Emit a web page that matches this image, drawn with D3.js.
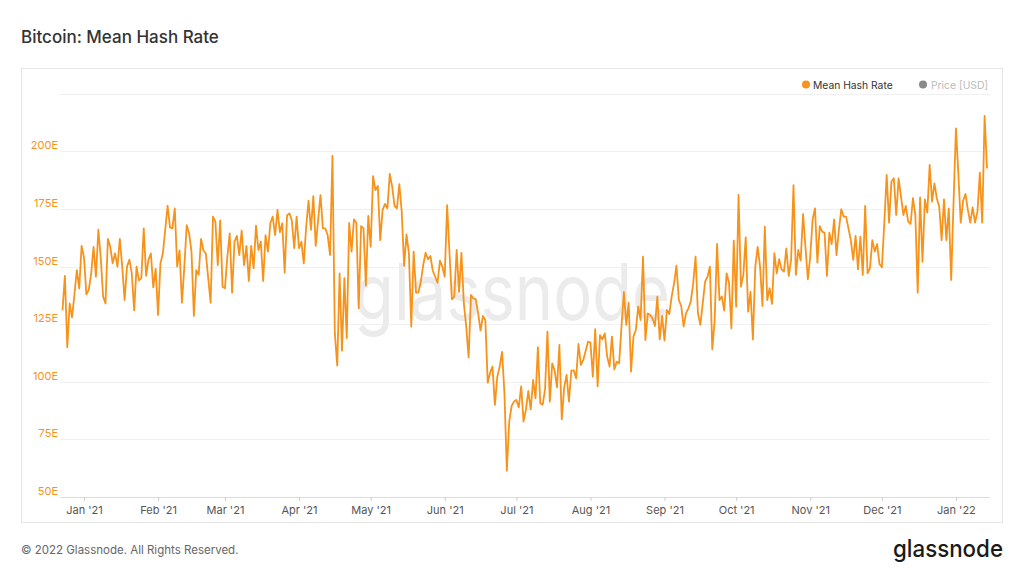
<!DOCTYPE html>
<html>
<head>
<meta charset="utf-8">
<script src="https://cdn.jsdelivr.net/npm/d3@7"></script>
<style>
  html, body { margin: 0; padding: 0; background: #ffffff; }
  svg { display: block; font-family: Inter, "Noto Sans", sans-serif; }
</style>
</head>
<body>
<svg id="chart" width="1024" height="576"></svg>
<script>
// ---- data ----
const seriesName = "Mean Hash Rate";
const startDate = "2020-12-23";
const hashRate = [
131,146,115,134,128,138,148.5,140.5,159,
154,138,140,147,158.6,145.6,166,154,137,134,162,158.6,151.4,155.7,150,162,150,135.5,150,153,147,131,150,144,145,166.6,146,153,155.7,141,149,129,
151.4,155.7,166,176.4,167,166.6,175.3,150,157,134.3,150,168,164.4,156.5,128.6,148.5,146.4,162,157,155.7,145,134.3,171.7,169.5,150.6,170,141.3,140.6,
154.3,164.4,138.7,160.8,163.3,155,165.6,150.6,159,143.75,159,149.2,167.8,157.2,160.8,143.75,163.7,156.5,168.8,171.7,163.7,174.6,164.9,168.8,147.4,172.3,173.1,170,158,171.7,
158,160.8,151.4,167.3,178.6,165.9,180.6,159,170.2,181,166.6,166.6,163.7,155,198,121,107,147,113.5,145,119,169,156.5,170.5,169,131.9,167.6,166.6,141.7,172,
158.6,189.3,183.2,185,161.5,174.6,177.2,175.3,190.2,184.7,176.3,175.3,185.8,173.8,150.3,164,155.8,124,156.5,138.7,138.7,143.5,150.7,156,153.2,154.6,148.2,145.6,143,152.6,150,145.6,
176.7,155.8,135.8,137,157.2,139,156,134,124,110.6,137.7,136.2,135.8,129.7,122.2,128.6,126.8,99.6,104,106.6,90,102.2,106.6,113,95,61.4,82.7,89.5,91.4,
92.1,88.9,98,82.7,88,96,88,100.8,92.8,115,90.7,90,96.7,121.8,91.4,108,105,97.6,116,83.7,97.6,103,91.4,104.8,105,101.5,116.4,107.3,109.5,113.5,117.4,
117,102.2,122.8,98,120.3,118.4,121,111,106.6,119.6,105.4,108.7,108,124,139,124.7,134.3,104.4,119.6,122.5,132.6,126.8,154.3,118.1,129.7,129,127.5,124.2,137,118.4,128.6,
117.9,131.2,129.4,137,142.7,150.4,135.5,132.9,124,129.7,131.9,134.8,142.7,154.3,129.7,124.7,134,143.5,145.6,150,114.1,126.8,159.8,135.5,137,130.9,147.1,143,123.2,161.3,
132.6,181.1,141.3,146.4,162.7,130.4,139.1,118.4,150,158.6,150,132.9,167.3,135.5,140.6,133.8,155.8,147.1,153.2,148.8,147.8,157.9,145.9,152.9,185.4,146.4,157.2,152.6,172.8,158.6,144.5,
154.3,170.5,175.3,151.7,167.6,165.2,164.7,145.9,164.7,159.8,170.5,155,166,174.9,171.7,171.7,166.6,161.5,152.9,163.3,148.8,163,146.4,176.3,147.1,149.2,161.5,156.5,159.8,151.1,
149.7,168.8,189.8,169.1,186.9,188.3,172.4,188.3,180.4,172.4,176.3,169.5,168.5,179.7,172.4,138.7,180,152.1,179.2,173.4,194.1,178.2,186.1,179.6,176,161.5,179.2,161.5,175.3,144.2,178,
210,190.5,169.1,178.6,181.5,174.6,169.1,175.7,169.1,173.8,190.8,169.1,215.4,192.6
];
const yTickValues = [50, 75, 100, 125, 150, 175, 200];
const yTickLabels = ["50E", "75E", "100E", "125E", "150E", "175E", "200E"];
const monthTickDates = ["2021-01-01","2021-02-01","2021-03-01","2021-04-01","2021-05-01","2021-06-01",
  "2021-07-01","2021-08-01","2021-09-01","2021-10-01","2021-11-01","2021-12-01","2022-01-01"];
const monthTickLabels = ["Jan '21","Feb '21","Mar '21","Apr '21","May '21","Jun '21",
  "Jul '21","Aug '21","Sep '21","Oct '21","Nov '21","Dec '21","Jan '22"];

// ---- build ----
const parse = d3.utcParse("%Y-%m-%d");
const start = parse(startDate);
const data = hashRate.map((v, i) => ({ date: d3.utcDay.offset(start, i), value: v }));

const svg = d3.select("#chart");
const orange = "#f7931a";

// Title
svg.append("text").attr("x", 21).attr("y", 43)
  .attr("font-size", 17).attr("font-weight", 500).attr("fill", "#333")
  .text("Bitcoin: Mean Hash Rate");

// Frame
svg.append("rect").attr("x", 21.5).attr("y", 68.5).attr("width", 981).attr("height", 454)
  .attr("fill", "none").attr("stroke", "#e6e6e6");

const plotLeft = 60, plotRight = 990;
const x = d3.scaleUtc()
  .domain([data[0].date, data[data.length - 1].date])
  .range([62.5, 987]);
const y = d3.scaleLinear().domain([50, 225]).range([497, 93.8]);

// Watermark
svg.append("text").attr("x", 512).attr("y", 320).attr("text-anchor", "middle")
  .attr("font-size", 78).attr("font-weight", 400).attr("fill", "#ebebeb")
  .attr("textLength", 316).attr("lengthAdjust", "spacingAndGlyphs")
  .text("glassnode");

// Grid lines
const grid = svg.append("g");
grid.selectAll("line").data(yTickValues.concat([225])).join("line")
  .attr("x1", plotLeft).attr("x2", plotRight)
  .attr("y1", d => Math.round(y(d)) + 0.5).attr("y2", d => Math.round(y(d)) + 0.5)
  .attr("stroke", d => d === 50 ? "#dcdcdc" : "#f0f0f0").attr("stroke-width", 1);

// Y labels
svg.append("g").selectAll("text").data(yTickValues).join("text")
  .attr("x", 58).attr("y", d => y(d) - 2).attr("text-anchor", "end")
  .attr("font-size", 11).attr("fill", orange)
  .text((d, i) => yTickLabels[i]);

// X axis
const tickDates = monthTickDates.map(parse);
const xAxis = d3.axisBottom(x).tickValues(tickDates).tickSize(4)
  .tickFormat((d, i) => monthTickLabels[i]);
const gx = svg.append("g").attr("transform", "translate(0,497)").call(xAxis);
gx.select(".domain").remove();
gx.selectAll(".tick line").attr("stroke", "#d0d0d0");
gx.selectAll(".tick text").attr("font-family", "Inter, sans-serif").attr("font-size", 11)
  .attr("fill", "#555").attr("dy", "0.95em");

// Line
const line = d3.line().x(d => x(d.date)).y(d => y(d.value));
svg.append("path").datum(data).attr("d", line)
  .attr("fill", "none").attr("stroke", orange).attr("stroke-width", 1.8)
  .attr("stroke-linejoin", "round");

// Legend
const legend = svg.append("g");
legend.append("circle").attr("cx", 806).attr("cy", 84.5).attr("r", 4).attr("fill", orange);
legend.append("text").attr("x", 813).attr("y", 88.5).attr("font-size", 10.3).attr("fill", "#333")
  .text(seriesName);
legend.append("circle").attr("cx", 923).attr("cy", 84.5).attr("r", 4).attr("fill", "#8a8a8a");
legend.append("text").attr("x", 931).attr("y", 88.5).attr("font-size", 10.3).attr("fill", "#bbbbbb")
  .text("Price [USD]");

// Footer
svg.append("text").attr("x", 21).attr("y", 554).attr("font-size", 11.5).attr("fill", "#666")
  .text("© 2022 Glassnode. All Rights Reserved.");
svg.append("text").attr("x", 1003).attr("y", 557).attr("text-anchor", "end")
  .attr("font-size", 24).attr("font-weight", 500).attr("fill", "#1a1a1a")
  .attr("textLength", 110).attr("lengthAdjust", "spacingAndGlyphs")
  .text("glassnode");
</script>
</body>
</html>
